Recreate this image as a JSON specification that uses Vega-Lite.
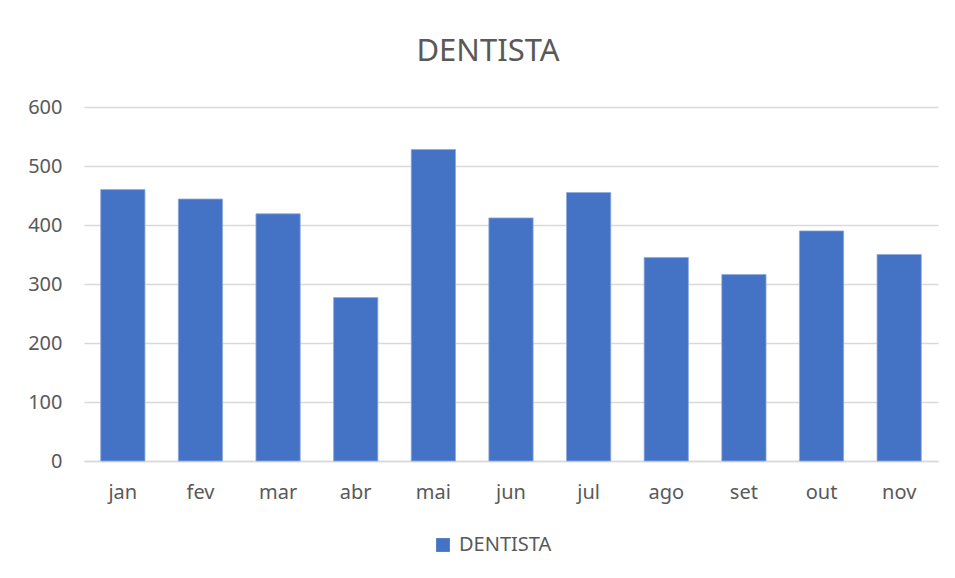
{
  "$schema": "https://vega.github.io/schema/vega-lite/v6.json",
  "autosize": "none",
  "width": 854,
  "height": 354,
  "padding": {"left": 84, "top": 107, "right": 17, "bottom": 117},
  "background": "white",
  "title": {"text": "DENTISTA", "fontSize": 31, "font": "Noto Sans", "fontWeight": "normal", "color": "#595959", "anchor": "middle", "dx": -23, "offset": 29},
  "data": {"values": [
    {"mes": "jan", "valor": 460, "serie": "DENTISTA"},
    {"mes": "fev", "valor": 444, "serie": "DENTISTA"},
    {"mes": "mar", "valor": 419, "serie": "DENTISTA"},
    {"mes": "abr", "valor": 277, "serie": "DENTISTA"},
    {"mes": "mai", "valor": 528, "serie": "DENTISTA"},
    {"mes": "jun", "valor": 412, "serie": "DENTISTA"},
    {"mes": "jul", "valor": 455, "serie": "DENTISTA"},
    {"mes": "ago", "valor": 345, "serie": "DENTISTA"},
    {"mes": "set", "valor": 316, "serie": "DENTISTA"},
    {"mes": "out", "valor": 390, "serie": "DENTISTA"},
    {"mes": "nov", "valor": 350, "serie": "DENTISTA"}
  ]},
  "mark": {"type": "bar", "stroke": "#8fa9dc", "strokeWidth": 0.8},
  "encoding": {
    "x": {"field": "mes", "type": "nominal", "sort": null, "title": null,
      "scale": {"paddingInner": 0.43, "paddingOuter": 0.215},
      "axis": {"labelAngle": 0, "ticks": false, "labelPadding": 21, "labelFontSize": 20, "labelFont": "Noto Sans", "labelColor": "#595959", "domainColor": "#d9d9d9", "domainWidth": 1.5}},
    "y": {"field": "valor", "type": "quantitative", "title": null,
      "scale": {"domain": [0, 600], "nice": false},
      "axis": {"values": [0, 100, 200, 300, 400, 500, 600], "ticks": false, "domain": false, "labelPadding": 22, "labelFontSize": 20, "labelFont": "Noto Sans", "labelColor": "#595959", "gridColor": "#d9d9d9", "gridWidth": 1.5}},
    "color": {"field": "serie", "type": "nominal", "title": null,
      "scale": {"range": ["#4472C4"]},
      "legend": {"orient": "none", "legendX": 349, "legendY": 428, "direction": "horizontal", "symbolType": "square", "symbolSize": 190, "symbolStrokeWidth": 0, "labelFontSize": 20, "labelFont": "Noto Sans", "labelColor": "#595959", "labelOffset": 6}}
  },
  "config": {"view": {"stroke": null}}
}
